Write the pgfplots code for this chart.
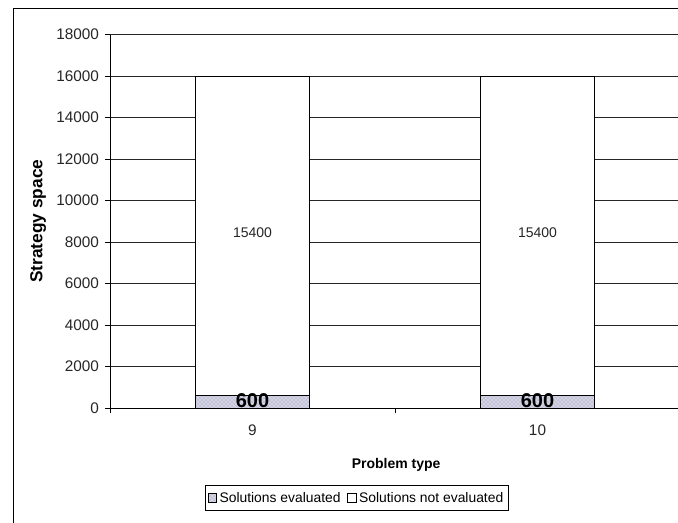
\documentclass[border=0pt]{standalone}
\usepackage{pgfplots}
\pgfplotsset{compat=1.18}
\usepackage{pgfplotstable}
\usepackage{fontspec}
\setmainfont{Liberation Sans}
\usetikzlibrary{patterns}

\definecolor{evalfill}{RGB}{212,212,228}
\definecolor{evaldots}{RGB}{140,140,175}

% Strategy space per problem type
\pgfplotstableread{
cat type evaluated notevaluated
0   9    600       15400
1   10   600       15400
}\strategydata

\pgfplotsset{
  chartframe/.style={
    at={(82.5pt,85.5pt)}, anchor=south west,
    scale only axis, width=427.5pt, height=280.125pt,
    xmin=-0.5, xmax=1.5, ymin=0, ymax=18000,
  },
}

\begin{document}
\begin{tikzpicture}
% chart area: 678 x 522 units of 0.75pt
\useasboundingbox (0pt,0pt) rectangle (508.5pt,391.5pt);
\clip (0pt,0pt) rectangle (508.5pt,391.5pt);
\fill[white] (0pt,0pt) rectangle (508.5pt,391.5pt);
\draw[black, line width=0.75pt] (9.75pt,-10pt) -- (9.75pt,384.75pt) -- (530pt,384.75pt);
\begin{axis}[
  chartframe,
  ybar stacked, bar width=0.4,
  axis x line*=bottom, axis y line*=left,
  axis line style={black, line width=0.75pt, -},
  tick align=outside, major tick length=3.75pt,
  tick style={black, line width=0.75pt},
  ytick={0,2000,...,18000},
  scaled y ticks=false,
  ymajorgrids,
  grid style={black!85, line width=0.6pt},
  xtick={-0.5,0.5,1.5}, xticklabels={},
  extra x ticks={0,1}, extra x tick labels={9,10},
  extra x tick style={major tick length=0pt, grid=none},
  xticklabel style={yshift=-9pt},
  yticklabel style={xshift=-1pt},
  /pgf/number format/1000 sep={},
  /pgf/number format/assume math mode=true,
  ticklabel style={font=\fontsize{11.5}{13}\selectfont, text=black!85},
  xlabel={Problem type},
  xlabel style={font=\bfseries\fontsize{10.5}{12}\selectfont, at={(axis description cs:0.502,-0.153)}, anchor=center},
  ylabel={Strategy space},
  ylabel style={font=\bfseries\fontsize{13}{15}\selectfont, at={(axis description cs:-0.126,0.5)}, anchor=center},
  legend columns=2,
  legend style={at={(axis description cs:0.433,-0.241)}, anchor=center,
    draw=black, line width=0.75pt, font=\fontsize{10.4}{12}\selectfont,
    inner xsep=2pt, inner ysep=2.5pt,
    /tikz/every even column/.append style={column sep=3pt}},
  legend image code/.code={\draw[#1, line width=0.5pt] (0pt,-3.2pt) rectangle (6.4pt,3.2pt);},
]
\addplot[draw=black, line width=0.75pt, fill=evalfill,
  postaction={pattern=crosshatch dots, pattern color=evaldots}]
  table[x=cat, y=evaluated] {\strategydata};
\addlegendentry{Solutions evaluated}
\addplot[draw=black, line width=0.75pt, fill=white]
  table[x=cat, y=notevaluated] {\strategydata};
\addlegendentry{Solutions not evaluated}
\end{axis}
% value labels, centred in each bar segment
\begin{axis}[chartframe, hide axis, point meta=explicit symbolic, nodes near coords]
\addplot[draw=none, mark=none,
  every node near coord/.style={anchor=center, yshift=1pt,
    font=\bfseries\fontsize{15}{17}\selectfont, text=black}]
  table[x=cat, y expr=0.5*\thisrow{evaluated}, meta=evaluated] {\strategydata};
\addplot[draw=none, mark=none,
  every node near coord/.style={anchor=center, yshift=2.5pt,
    font=\fontsize{10.5}{12}\selectfont, text=black!85}]
  table[x=cat, y expr=\thisrow{evaluated}+0.5*\thisrow{notevaluated}, meta=notevaluated] {\strategydata};
\end{axis}
\end{tikzpicture}
\end{document}
